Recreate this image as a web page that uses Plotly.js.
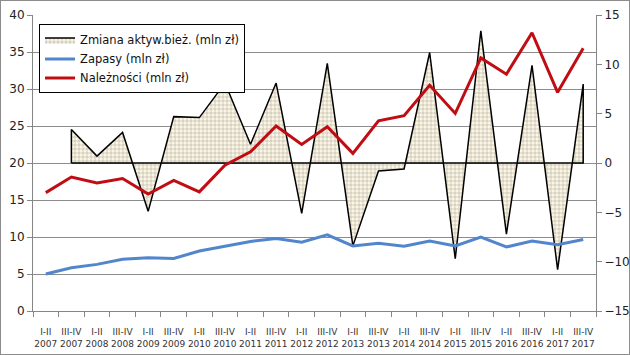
<!DOCTYPE html>
<html>
<head>
<meta charset="utf-8">
<script src="https://cdn.plot.ly/plotly-3.0.1.min.js"></script>
<style>
  html, body { margin: 0; padding: 0; background: #fff; }
  #frame { width: 628px; height: 353px; border: 1px solid #8c8c8c; }
  #chart { width: 628px; height: 353px; }
</style>
</head>
<body>
<div id="frame"><div id="chart"></div></div>
<script>
const categories = [
  "I-II<br>2007", "III-IV<br>2007", "I-II<br>2008", "III-IV<br>2008",
  "I-II<br>2009", "III-IV<br>2009", "I-II<br>2010", "III-IV<br>2010",
  "I-II<br>2011", "III-IV<br>2011", "I-II<br>2012", "III-IV<br>2012",
  "I-II<br>2013", "III-IV<br>2013", "I-II<br>2014", "III-IV<br>2014",
  "I-II<br>2015", "III-IV<br>2015", "I-II<br>2016", "III-IV<br>2016",
  "I-II<br>2017", "III-IV<br>2017"
];
// Zmiana aktyw. bież. (right axis) — starts at III-IV 2007
const zmianaCategories = categories.slice(1);
const zmiana = [3.4, 0.7, 3.1, -4.9, 4.7, 4.6, 8.1, 1.9, 8.1, -5.1, 10.1,
                -8.4, -0.8, -0.6, 11.2, -9.7, 13.4, -7.2, 9.9, -10.8, 8.0];
const zapasy = [5.0, 5.85, 6.3, 7.0, 7.2, 7.1, 8.1, 8.8, 9.4, 9.8, 9.3, 10.3,
                8.8, 9.15, 8.75, 9.45, 8.8, 10.0, 8.65, 9.45, 8.95, 9.65];
const naleznosci = [16.0, 18.1, 17.3, 17.9, 15.8, 17.65, 16.1, 19.7, 21.5, 25.0,
                    22.5, 24.9, 21.3, 25.7, 26.4, 30.5, 26.7, 34.2, 32.0, 37.6,
                    29.55, 35.5];
const leftTicks = [0, 5, 10, 15, 20, 25, 30, 35, 40];
const rightTicks = [-15, -10, -5, 0, 5, 10, 15];

const first = zmianaCategories[0];
const last = zmianaCategories[zmianaCategories.length - 1];

const traces = [
  {
    name: "Zmiana aktyw.bież. (mln zł)",
    type: "scatter", mode: "lines",
    x: [first].concat(zmianaCategories, [last, first]),
    y: [0].concat(zmiana, [0, 0]),
    fill: "toself",
    fillcolor: "#FBF6E4",
    fillpattern: { shape: "+", bgcolor: "#FBF6E4", fgcolor: "#9A978C", size: 4, solidity: 0.2 },
    line: { color: "#000000", width: 1.5 },
    xaxis: "x", yaxis: "y",
    hoverinfo: "skip"
  },
  {
    name: "Zapasy (mln zł)",
    type: "scatter", mode: "lines",
    x: categories, y: zapasy,
    line: { color: "#5286CC", width: 3 },
    xaxis: "x", yaxis: "y2"
  },
  {
    name: "Należności (mln zł)",
    type: "scatter", mode: "lines",
    x: categories, y: naleznosci,
    line: { color: "#C00D14", width: 3 },
    xaxis: "x", yaxis: "y2"
  }
];

const axisColor = "#868686";
const layout = {
  width: 628, height: 353,
  margin: { l: 32, r: 33, t: 14, b: 43, pad: 0 },
  paper_bgcolor: "#ffffff", plot_bgcolor: "#ffffff",
  font: { family: "DejaVu Sans, sans-serif", color: "#222" },
  showlegend: true,
  legend: {
    x: 0.0107, y: 0.968, xanchor: "left", yanchor: "top",
    bgcolor: "#ffffff", bordercolor: "#000000", borderwidth: 1,
    font: { size: 11.5, color: "#111" },
    tracegroupgap: 0, itemwidth: 30
  },
  xaxis: {
    type: "category", categoryorder: "array", categoryarray: categories,
    range: [-0.5, categories.length - 0.5],
    tickson: "boundaries", ticks: "outside", ticklen: 5, tickcolor: axisColor,
    showline: true, linecolor: axisColor, linewidth: 1,
    showgrid: false, zeroline: false, tickangle: 0,
    ticklabelstandoff: 12,
    tickfont: { size: 9, color: "#333" }
  },
  yaxis: {
    side: "right", range: [-15, 15], tickvals: rightTicks,
    ticks: "outside", ticklen: 5, tickcolor: axisColor,
    showline: true, linecolor: axisColor, linewidth: 1,
    showgrid: false, zeroline: false,
    tickfont: { size: 12, color: "#222" }
  },
  yaxis2: {
    side: "left", overlaying: "y", range: [0, 40], tickvals: leftTicks,
    ticks: "outside", ticklen: 5, tickcolor: axisColor,
    showline: true, linecolor: axisColor, linewidth: 1,
    showgrid: true, gridcolor: "#8c8c8c", gridwidth: 1, zeroline: false,
    tickfont: { size: 12, color: "#222" }
  }
};

Plotly.newPlot("chart", traces, layout, { displayModeBar: false, staticPlot: true });
</script>
</body>
</html>
